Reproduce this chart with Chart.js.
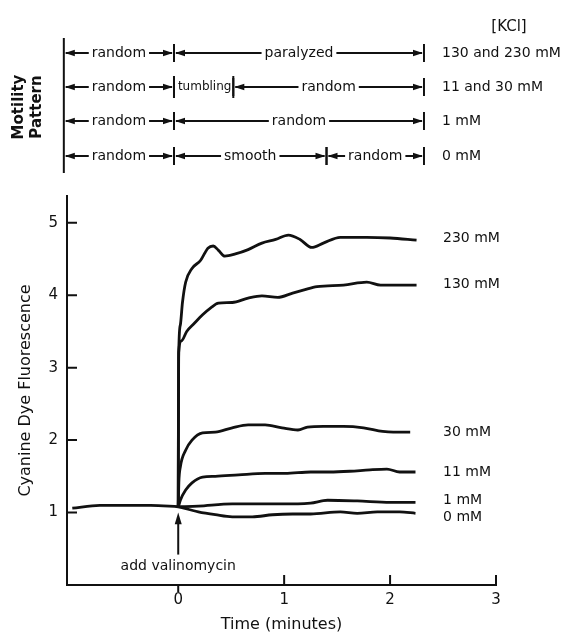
<!DOCTYPE html>
<html>
<head>
<meta charset="utf-8">
<script src="https://cdn.jsdelivr.net/npm/chart.js@4.4.0/dist/chart.umd.min.js"></script>
<style>
  html, body { margin: 0; padding: 0; background: #fff; }
</style>
</head>
<body>
<canvas id="myChart" width="576" height="637"></canvas>
<script>
// curve data, time in minutes, fluorescence in arbitrary units
const base_t = [-1.0, -0.74, -0.26, 0];
const base_v = [1.06, 1.10, 1.10, 1.08];

const t230 = [0, 0.004, 0.02, 0.04, 0.07, 0.13, 0.21, 0.25, 0.28, 0.33, 0.38, 0.44, 0.54, 0.66, 0.79, 0.92, 1.04, 1.15, 1.26, 1.37, 1.53, 1.78, 2.0, 2.25];
const v230 = [1.08, 3.13, 3.59, 3.90, 4.18, 4.37, 4.48, 4.58, 4.65, 4.68, 4.62, 4.54, 4.57, 4.63, 4.72, 4.77, 4.83, 4.77, 4.66, 4.72, 4.80, 4.80, 4.79, 4.76];

const t130 = [0, 0.004, 0.03, 0.08, 0.15, 0.23, 0.31, 0.38, 0.51, 0.66, 0.79, 0.94, 1.08, 1.18, 1.31, 1.56, 1.78, 1.91, 2.25];
const v130 = [1.08, 3.21, 3.37, 3.50, 3.61, 3.73, 3.83, 3.89, 3.90, 3.96, 3.99, 3.97, 4.03, 4.07, 4.12, 4.14, 4.18, 4.14, 4.14];

const t30 = [0, 0.006, 0.02, 0.07, 0.13, 0.23, 0.35, 0.51, 0.66, 0.82, 0.98, 1.13, 1.22, 1.37, 1.56, 1.75, 1.93, 2.03, 2.19];
const v30 = [1.08, 1.42, 1.63, 1.86, 2.00, 2.10, 2.11, 2.17, 2.21, 2.21, 2.17, 2.14, 2.18, 2.19, 2.19, 2.17, 2.12, 2.11, 2.11];

const t11 = [0, 0.01, 0.02, 0.07, 0.13, 0.23, 0.35, 0.57, 0.82, 1.01, 1.25, 1.43, 1.62, 1.81, 1.97, 2.09, 2.24];
const v11 = [1.08, 1.12, 1.17, 1.31, 1.41, 1.49, 1.50, 1.52, 1.54, 1.54, 1.56, 1.56, 1.57, 1.59, 1.60, 1.56, 1.56];

const t1 = [0, 0.19, 0.51, 0.82, 1.13, 1.25, 1.41, 1.69, 2.0, 2.24];
const v1 = [1.08, 1.09, 1.12, 1.12, 1.12, 1.13, 1.17, 1.16, 1.14, 1.14];

const t0 = [0, 0.19, 0.35, 0.51, 0.70, 0.89, 1.08, 1.25, 1.53, 1.69, 1.88, 2.09, 2.24];
const v0 = [1.08, 1.01, 0.97, 0.94, 0.94, 0.97, 0.98, 0.98, 1.01, 0.99, 1.01, 1.01, 0.99];

const curveNames = ['230 mM', '130 mM', '30 mM', '11 mM', '1 mM', '0 mM'];
const curveLabelY = [4.78, 4.15, 2.11, 1.56, 1.17, 0.94];
const curveLabelX = 2.5;

const xTicks = [0, 1, 2, 3];
const yTicks = [1, 2, 3, 4, 5];

// motility pattern panel (boundaries in minutes)
const kclRows = ['130 and 230 mM', '11 and 30 mM', '1 mM', '0 mM'];
const rowBounds = [[-1.08, -0.04, 2.32], [-1.08, -0.04, 0.52, 2.32], [-1.08, -0.04, 2.32], [-1.08, -0.04, 1.40, 2.32]];
const rowStates = [['random', 'paralyzed'], ['random', 'tumbling', 'random'], ['random', 'random'], ['random', 'smooth', 'random']];
const rowY = [53, 87, 121, 156];

function pts(t, v) { return t.map((x, i) => ({x: x, y: v[i]})); }

const series = [pts(t230, v230), pts(t130, v130), pts(t30, v30), pts(t11, v11), pts(t1, v1), pts(t0, v0)];

const ink = '#111';
const fnt = '"DejaVu Sans", sans-serif';
Chart.defaults.font.family = fnt;
Chart.defaults.color = ink;

const datasets = series.map((d, i) => ({
  label: curveNames[i],
  data: d,
  borderColor: ink,
  borderWidth: 2.8,
  pointRadius: 0,
  fill: false,
  cubicInterpolationMode: 'monotone'
}));
datasets.push({label: 'before', data: pts(base_t, base_v), borderColor: ink, borderWidth: 2.8, pointRadius: 0, fill: false, cubicInterpolationMode: 'monotone'});

function arrowHead(ctx, x, y, dir) {
  ctx.beginPath();
  ctx.moveTo(x, y);
  ctx.lineTo(x - dir * 10, y - 3.2);
  ctx.lineTo(x - dir * 10, y + 3.2);
  ctx.closePath();
  ctx.fill();
}

const extras = {
  id: 'extras',
  afterDraw(chart) {
    const ctx = chart.ctx;
    const xs = chart.scales.x, ys = chart.scales.y;
    const area = chart.chartArea;
    ctx.save();
    ctx.strokeStyle = ink;
    ctx.fillStyle = ink;
    ctx.lineWidth = 2;

    // inward tick marks
    ctx.beginPath();
    yTicks.forEach(v => {
      const py = ys.getPixelForValue(v);
      ctx.moveTo(area.left, py); ctx.lineTo(area.left + 10, py);
    });
    xTicks.forEach(v => {
      const px = xs.getPixelForValue(v);
      if (v === 0) { ctx.moveTo(px, area.bottom); ctx.lineTo(px, area.bottom + 7); }
      else { ctx.moveTo(px, area.bottom); ctx.lineTo(px, area.bottom - 10); }
    });
    ctx.stroke();

    // curve labels
    ctx.font = '14px ' + fnt;
    ctx.textBaseline = 'middle';
    ctx.textAlign = 'left';
    curveNames.forEach((n, i) => {
      ctx.fillText(n, xs.getPixelForValue(curveLabelX), ys.getPixelForValue(curveLabelY[i]));
    });

    // add valinomycin arrow
    const ax = xs.getPixelForValue(0);
    ctx.beginPath();
    ctx.moveTo(ax, ys.getPixelForValue(0.42));
    ctx.lineTo(ax, ys.getPixelForValue(0.9));
    ctx.stroke();
    ctx.beginPath();
    ctx.moveTo(ax, ys.getPixelForValue(1.0));
    ctx.lineTo(ax - 3.5, ys.getPixelForValue(0.84));
    ctx.lineTo(ax + 3.5, ys.getPixelForValue(0.84));
    ctx.closePath();
    ctx.fill();
    ctx.textAlign = 'center';
    ctx.fillText('add valinomycin', ax, ys.getPixelForValue(0.26));

    // motility pattern panel
    const leftX = xs.getPixelForValue(rowBounds[0][0]);
    ctx.beginPath();
    ctx.moveTo(leftX, rowY[0] - 15);
    ctx.lineTo(leftX, rowY[3] + 17);
    ctx.stroke();
    rowBounds.forEach((b, r) => {
      const y = rowY[r];
      rowStates[r].forEach((s, k) => {
        const x1 = xs.getPixelForValue(b[k]), x2 = xs.getPixelForValue(b[k + 1]);
        const cx = (x1 + x2) / 2;
        ctx.textAlign = 'center';
        if (s === 'tumbling') {
          ctx.font = '12px ' + fnt;
          ctx.fillText(s, cx + 1, y);
          ctx.beginPath();
          ctx.moveTo(x1, y - 11); ctx.lineTo(x1, y + 11);
          ctx.moveTo(x2, y - 11); ctx.lineTo(x2, y + 11);
          ctx.stroke();
          return;
        }
        ctx.font = '14px ' + fnt;
        ctx.fillText(s, cx, y);
        const w = ctx.measureText(s).width;
        ctx.beginPath();
        ctx.moveTo(x1 + 2, y); ctx.lineTo(cx - w / 2 - 3, y);
        ctx.moveTo(cx + w / 2 + 3, y); ctx.lineTo(x2 - 2, y);
        ctx.stroke();
        arrowHead(ctx, x1 + 1, y, -1);
        arrowHead(ctx, x2 - 1, y, 1);
        if (k > 0) { ctx.beginPath(); ctx.moveTo(x1, y - 9); ctx.lineTo(x1, y + 9); ctx.stroke(); }
        ctx.beginPath(); ctx.moveTo(x2, y - 9); ctx.lineTo(x2, y + 9); ctx.stroke();
      });
      ctx.font = '14px ' + fnt;
      ctx.textAlign = 'left';
      ctx.fillText(kclRows[r], 442, y);
    });
    ctx.textAlign = 'center';
    ctx.font = '15px ' + fnt;
    ctx.fillText('[KCl]', 509, 27);

    // side title
    ctx.translate(28, 107);
    ctx.rotate(-Math.PI / 2);
    ctx.font = 'bold 15px ' + fnt;
    ctx.fillText('Motility', 0, -9);
    ctx.fillText('Pattern', 0, 9);
    ctx.restore();
  }
};

const config = {
  type: 'line',
  data: {datasets: datasets},
  options: {
    responsive: false,
    animation: false,
    layout: {padding: {top: 196, right: 80, left: 0, bottom: 0}},
    plugins: {legend: {display: false}, tooltip: {enabled: false}},
    scales: {
      x: {
        type: 'linear',
        min: -1.05,
        max: 3,
        afterFit: s => { s.height = 52; },
        grid: {display: false, drawTicks: false},
        border: {display: true, color: ink, width: 2},
        ticks: {stepSize: 1, includeBounds: false, padding: 6, maxRotation: 0, font: {size: 15},
          callback: v => (v >= 0 ? String(v) : '')},
        title: {display: true, text: 'Time (minutes)', font: {size: 16}, padding: {top: 0, bottom: 3}}
      },
      y: {
        min: 0,
        max: 5.37,
        afterFit: s => { s.width = 67; },
        grid: {display: false, drawTicks: false},
        border: {display: true, color: ink, width: 2},
        ticks: {stepSize: 1, includeBounds: false, padding: 9, font: {size: 15},
          callback: v => (v >= 1 ? String(v) : '')},
        title: {display: true, text: 'Cyanine Dye Fluorescence', font: {size: 16}, padding: {top: 16, bottom: 0}}
      }
    }
  },
  plugins: [extras]
};

const myChart = new Chart(document.getElementById('myChart').getContext('2d'), config);
</script>
</body>
</html>
